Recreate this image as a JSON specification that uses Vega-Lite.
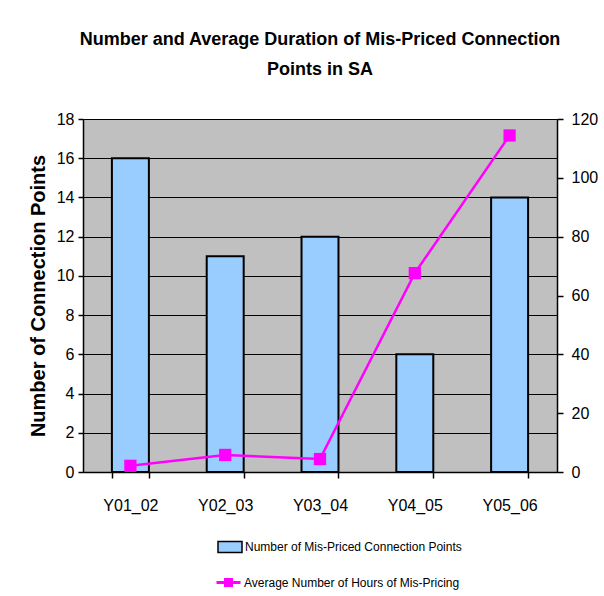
{
  "$schema": "https://vega.github.io/schema/vega-lite/v6.json",
  "autosize": {"type": "none"},
  "padding": {"left": 83, "top": 119, "right": 47, "bottom": 124},
  "width": 474,
  "height": 353,
  "background": "#ffffff",
  "config": {
    "font": "Liberation Sans, Arial, sans-serif",
    "view": {"fill": "#C0C0C0", "stroke": null},
    "axis": {"domainColor": "#000", "tickColor": "#000", "labelColor": "#000", "titleColor": "#000", "domainWidth": 1.5, "tickWidth": 1.5}
  },
  "title": {
    "text": ["Number and Average Duration of Mis-Priced Connection", "Points in SA"],
    "font": "Liberation Sans, Arial, sans-serif",
    "fontSize": 18,
    "fontWeight": "bold",
    "lineHeight": 30,
    "anchor": "middle",
    "frame": "group",
    "offset": 24,
    "color": "#000"
  },
  "data": {
    "values": [
      {"period": "Y01_02", "points": 16, "hours": 2.1},
      {"period": "Y02_03", "points": 11, "hours": 5.8},
      {"period": "Y03_04", "points": 12, "hours": 4.4},
      {"period": "Y04_05", "points": 6, "hours": 67.6},
      {"period": "Y05_06", "points": 14, "hours": 114.4}
    ]
  },
  "encoding": {
    "x": {
      "field": "period",
      "type": "nominal",
      "sort": null,
      "scale": {"paddingInner": 0.61, "paddingOuter": 0.305},
      "axis": {"title": null, "labelAngle": 0, "labelFontSize": 16, "labelPadding": 19, "tickSize": 6, "tickBand": "extent", "grid": false}
    }
  },
  "layer": [
    {
      "mark": {"type": "bar", "fill": "#99CCFF", "stroke": "#000", "strokeWidth": 2},
      "encoding": {
        "y": {
          "field": "points",
          "type": "quantitative",
          "scale": {"domain": [0, 18], "nice": false},
          "axis": {
            "title": "Number of Connection Points",
            "titleFontSize": 20,
            "titleFontWeight": "bold",
            "titlePadding": 8,
            "values": [0, 2, 4, 6, 8, 10, 12, 14, 16, 18],
            "labelFontSize": 16,
            "labelPadding": 4,
            "tickSize": 5,
            "grid": true,
            "gridColor": "#000",
            "gridWidth": 1.2,
            "gridOpacity": 1
          }
        },
        "fill": {
          "datum": "Number of Mis-Priced Connection Points",
          "scale": {"range": ["#99CCFF"]},
          "legend": {
            "title": null,
            "orient": "none",
            "legendX": 134,
            "legendY": 415,
            "symbolType": "M-1,-0.45L1,-0.45L1,0.45L-1,0.45Z",
            "symbolSize": 576,
            "symbolStrokeColor": "#000",
            "symbolStrokeWidth": 1.5,
            "labelFontSize": 12,
            "labelOffset": 2,
            "labelLimit": 0,
            "labelColor": "#000"
          }
        }
      }
    },
    {
      "encoding": {
        "y": {
          "field": "hours",
          "type": "quantitative",
          "scale": {"domain": [0, 120], "nice": false},
          "axis": {
            "orient": "right",
            "title": "Average Number of Hours of Mis-Pricing",
            "titleFontSize": 20,
            "titleFontWeight": "bold",
            "titlePadding": 6,
            "values": [0, 20, 40, 60, 80, 100, 120],
            "labelFontSize": 16,
            "labelPadding": 8,
            "tickSize": 6,
            "grid": false
          }
        }
      },
      "layer": [
        {
          "mark": {"type": "line", "color": "#FF00FF", "strokeWidth": 2.5},
          "encoding": {
            "stroke": {
              "datum": "Average Number of Hours of Mis-Pricing",
              "scale": {"range": ["#FF00FF"]},
              "legend": {
                "title": null,
                "orient": "none",
                "legendX": 132,
                "legendY": 450,
                "symbolType": "M-1,0L1,0M-0.25,-0.25L0.25,-0.25L0.25,0.25L-0.25,0.25Z",
                "symbolSize": 576,
                "symbolFillColor": "#FF00FF",
                "symbolStrokeWidth": 3,
                "labelFontSize": 12,
                "labelOffset": 2,
                "labelLimit": 0,
                "labelColor": "#000"
              }
            }
          }
        },
        {
          "mark": {"type": "point", "shape": "square", "filled": true, "color": "#FF00FF", "size": 150, "opacity": 1}
        }
      ]
    }
  ],
  "resolve": {"scale": {"y": "independent"}}
}
